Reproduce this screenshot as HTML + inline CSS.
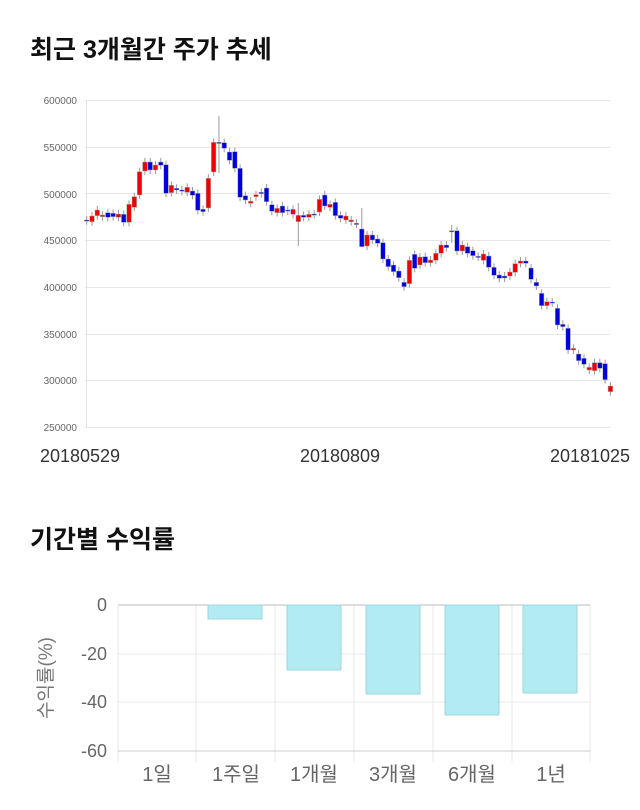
<!DOCTYPE html>
<html><head><meta charset="utf-8"><style>
body{margin:0;background:#fff;width:640px;height:810px;overflow:hidden;font-family:"Liberation Sans","Noto Sans CJK KR",sans-serif}
.t{position:absolute;left:30px;font-size:25px;font-weight:bold;color:#111}
</style></head><body>
<div class="t" style="top:30px">최근 3개월간 주가 추세</div>
<div class="t" style="top:520px">기간별 수익률</div>
<svg id="s" width="640" height="810" style="position:absolute;left:0;top:0" xmlns="http://www.w3.org/2000/svg" font-family="Liberation Sans, Noto Sans CJK KR, sans-serif">
<g font-size="10" fill="#666" text-anchor="end">
<text x="77" y="104">600000</text><text x="77" y="151">550000</text><text x="77" y="198">500000</text><text x="77" y="244">450000</text><text x="77" y="291">400000</text><text x="77" y="338">350000</text><text x="77" y="384">300000</text><text x="77" y="431">250000</text>
</g>
<g stroke="#e6e6e6" stroke-width="1">
<line x1="85" y1="100.5" x2="610" y2="100.5"/><line x1="85" y1="147.5" x2="610" y2="147.5"/><line x1="85" y1="193.5" x2="610" y2="193.5"/><line x1="85" y1="240.5" x2="610" y2="240.5"/><line x1="85" y1="287.5" x2="610" y2="287.5"/><line x1="85" y1="334.5" x2="610" y2="334.5"/><line x1="85" y1="380.5" x2="610" y2="380.5"/><line x1="85" y1="427.5" x2="610" y2="427.5"/>
<line x1="86.5" y1="100" x2="86.5" y2="428"/>
</g>
<g font-size="18" fill="#333" text-anchor="middle"><text x="80" y="462">20180529</text><text x="340" y="462">20180809</text><text x="590" y="462">20181025</text></g>
<g id="c"></g>
<g stroke="#e8e8e8"><line x1="118" y1="654" x2="590" y2="654"/><line x1="118" y1="702" x2="590" y2="702"/>
<line x1="118" y1="605" x2="118" y2="762"/><line x1="196" y1="605" x2="196" y2="762"/><line x1="275" y1="605" x2="275" y2="762"/><line x1="354" y1="605" x2="354" y2="762"/><line x1="433" y1="605" x2="433" y2="762"/><line x1="512" y1="605" x2="512" y2="762"/><line x1="590" y1="605" x2="590" y2="762"/></g>
<line x1="118" y1="605" x2="590" y2="605" stroke="#bbb"/><line x1="118" y1="751" x2="590" y2="751" stroke="#ccc"/>
<g fill="#b2ebf2" stroke="#9fd6df"><rect x="208" y="605" width="54" height="14"/><rect x="287" y="605" width="54" height="65"/><rect x="366" y="605" width="54" height="89"/><rect x="445" y="605" width="54" height="110"/><rect x="523" y="605" width="54" height="88"/></g>
<g font-size="18" fill="#666" text-anchor="end"><text x="107" y="611">0</text><text x="107" y="660">-20</text><text x="107" y="708">-40</text><text x="107" y="757">-60</text></g>
<g font-size="20" fill="#666" text-anchor="middle"><text x="157" y="781">1일</text><text x="236" y="781">1주일</text><text x="314" y="781">1개월</text><text x="393" y="781">3개월</text><text x="472" y="781">6개월</text><text x="551" y="781">1년</text></g>
<text transform="translate(52,678) rotate(-90)" font-size="19" fill="#777" text-anchor="middle">수익률(%)</text>
</svg>
<script>
var d=[[360,362,'b'],[348,365,'r'],[330,347,'r'],[345,350,'r'],[338,352,'b'],[340,350,'b'],[342,352,'r'],[343,367,'b'],[313,367,'r'],[290,322,'r'],[215,285,'r'],[186,213,'r'],[186,210,'b'],[195,210,'r'],[186,196,'b'],[194,280,'b'],[256,278,'r'],[265,270,'b'],[270,274,'b'],[262,277,'r'],[273,286,'b'],[280,331,'b'],[328,335,'b'],[235,324,'r'],[127,216,'r'],[127,129,'b'],[128,145,'b'],[156,181,'b'],[155,205,'b'],[205,292,'b'],[287,300,'b'],[304,310,'r'],[284,290,'r'],[277,281,'b'],[264,305,'b'],[314,334,'b'],[325,338,'r'],[318,338,'b'],[330,333,'b'],[328,343,'r'],[346,365,'r'],[346,352,'b'],[343,352,'r'],[342,344,'b'],[298,336,'r'],[285,318,'b'],[313,322,'r'],[307,347,'b'],[346,355,'b']];
var d2=[[108,120,'r'],[120,125,'r'],[130,132,'b'],[147,200,'b'],[165,198,'r'],[165,180,'b'],[177,190,'b'],[188,237,'b'],[237,260,'b'],[255,275,'b'],[273,293,'b'],[307,320,'b'],[241,311,'r'],[223,265,'b'],[231,255,'r'],[230,248,'b'],[240,248,'r'],[220,241,'r'],[195,220,'r'],[195,203,'b'],[152,154,'b'],[152,213,'b'],[195,213,'r'],[200,220,'b'],[212,227,'b'],[229,231,'b'],[222,241,'r'],[228,262,'b'],[262,286,'b'],[285,295,'b'],[288,294,'b'],[276,288,'r'],[251,277,'r'],[243,250,'r'],[243,250,'b'],[264,298,'b'],[307,318,'b'],[340,377,'b'],[365,377,'r'],[366,368,'b'],[385,435,'b'],[433,440,'b'],[445,510,'b'],[505,510,'r'],[522,542,'b'],[535,553,'b'],[562,570,'r'],[548,572,'r'],[548,565,'b'],[551,599,'b'],[618,635,'r']];
var c=[];d.forEach(function(a){c.push([100+a[0]/3,100+a[1]/3,a[2]])});d2.forEach(function(a){c.push([180+a[0]/3,180+a[1]/3,a[2]])});
var wk={25:[116,173],40:[203,246],69:[225,243],52:[208,230]};
var h='';c.forEach(function(a,i){var x=86.7+i*5.29;var w=wk[i]||[a[0]-4,a[1]+4];
h+='<line x1="'+x+'" x2="'+x+'" y1="'+w[0]+'" y2="'+w[1]+'" stroke="#999"/>';
h+='<rect x="'+(x-2.3)+'" y="'+a[0]+'" width="4.6" height="'+Math.max(1.2,a[1]-a[0])+'" fill="'+(a[2]=='r'?'#e00':'#00d')+'" stroke="#aaa" stroke-width="0.5"/>';});
document.getElementById('c').innerHTML=h;
</script>
</body></html>
